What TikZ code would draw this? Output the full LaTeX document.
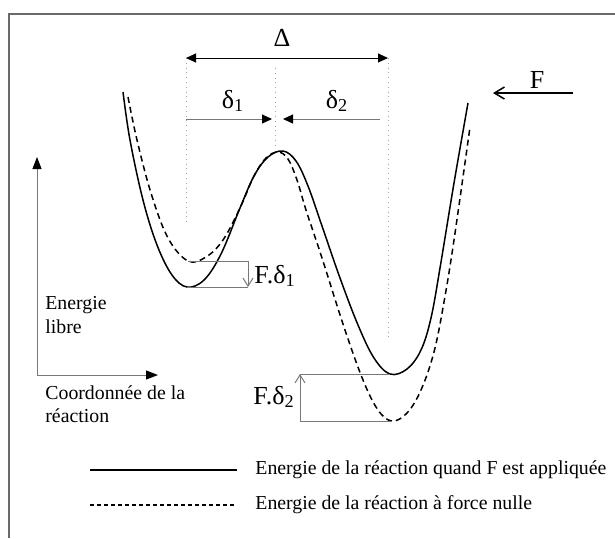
\documentclass[tikz,border=0pt]{standalone}
\usepackage{fontspec}
\setmainfont{Liberation Serif}
\usetikzlibrary{arrows.meta}
\definecolor{frameGray}{RGB}{105,105,105}
\definecolor{guideGray}{RGB}{160,160,160}
\definecolor{shaftGray}{RGB}{120,120,120}

\begin{document}
\begin{tikzpicture}[
  x=0.5pt, y=-0.5pt,
  font=\fontsize{9.9}{11.6}\selectfont,
  lbl/.style={font=\fontsize{13}{15}\selectfont, inner sep=0pt},
  txt/.style={anchor=west, align=left, inner sep=0pt},
  curve/.style={line width=0.75pt, line join=round},
  dashcurve/.style={curve, dash pattern=on 3pt off 2pt},
  guide/.style={draw=guideGray, line width=0.4pt, dotted},
  dimarrow/.style={{Triangle[length=5pt,width=4.5pt]}-{Triangle[length=5pt,width=4.5pt]}, line width=0.5pt},
  subarrow/.style={-{Triangle[length=5pt,width=4.5pt,color=black]}, draw=shaftGray, line width=0.5pt},
  axis/.style={-{Triangle[length=6pt,width=4.5pt,color=black]}, draw=shaftGray, line width=0.5pt},
  stepline/.style={draw=shaftGray, line width=0.5pt},
  steparrow/.style={stepline, -{Straight Barb[length=4pt,width=5pt]}},
  forcearrow/.style={-{Straight Barb[length=5pt,width=6pt]}, line width=0.75pt}
]
\useasboundingbox (0,0) rectangle (615,538);

% frame
\draw[frameGray, line width=0.7pt] (615,14) -- (9,14) -- (9,538);

% guide lines
\coordinate (gL) at (186,58);
\coordinate (gR) at (388,58);
\draw[guide] (186,58) -- (186,225);
\draw[guide] (388,58) -- (388,340);
\draw[guide] (275,68) -- (275,147);

% distances
\node[lbl] (Delta) at (282,38) {Δ};
\draw[dimarrow] (gL) -- (gR);
\node[lbl] (d1) at (233,101) {δ\textsubscript{1}};
\node[lbl] (d2) at (337,101) {δ\textsubscript{2}};
\draw[subarrow] (186,119) -- (272,119);
\draw[subarrow] (380,119) -- (283,119);

% force
\node[lbl] (forceF) at (537,80) {F};
\coordinate (fA) at (573,93);
\coordinate (fB) at (493,93);
\draw[forcearrow] (fA) -- (fB);

% energy curves
\draw[curve] plot[smooth, tension=0.6] coordinates {
  (123,92) (130,140) (143,200) (157,245) (172,275) (187,287) (204,280)
  (221,254) (240,208) (254,176) (268,157) (283,151) (296,161) (308,186)
  (322,226) (340,278) (358,325) (374,358) (390,374) (407,369) (421,350)
  (431,318) (440,268) (454,183) (468,103)};
\draw[dashcurve] plot[smooth, tension=0.6] coordinates {
  (128,97) (137,140) (151,193) (168,238) (188,261) (206,257) (223,240)
  (240,208) (254,176) (266,158) (278,152) (288,159) (297,180) (306,210)
  (322,258) (344,327) (363,380) (378,410) (392,421) (407,413) (421,390)
  (434,352) (444,302) (454,240) (470,127)};

% steps
\coordinate (smin1) at (187,287);
\coordinate (dmin1) at (188,261);
\coordinate (smin2) at (390,374);
\coordinate (dmin2) at (392,421);
\draw[stepline] (dmin1) -- (248,261);
\draw[steparrow] (248,261) -- (248,287);
\draw[stepline] (smin1) -- (248,287);
\node[lbl, anchor=west] (fd1) at (254,276) {F.δ\textsubscript{1}};
\draw[stepline] (smin2) -- (300,374);
\draw[steparrow] (300,421) -- (300,374);
\draw[stepline] (300,421) -- (dmin2);
\node[lbl, anchor=east] (fd2) at (295,397) {F.δ\textsubscript{2}};

% axes
\coordinate (origin) at (37,375);
\draw[axis] (origin) -- (37,157);
\draw[axis] (origin) -- (158,375);
\node[txt] (ylab) at (45,315) {Energie\\libre};
\node[txt] (xlab) at (45,404) {Coordonnée de la\\réaction};

% legend
\draw[curve] (90,470) -- (237,470);
\draw[dashcurve, line width=0.6pt, dash pattern=on 2pt off 1.5pt] (90,505) -- (237,505);
\node[txt] (leg1) at (255,470) {Energie de la réaction quand F est appliquée};
\node[txt] (leg2) at (255,505) {Energie de la réaction à force nulle};
\end{tikzpicture}
\end{document}
